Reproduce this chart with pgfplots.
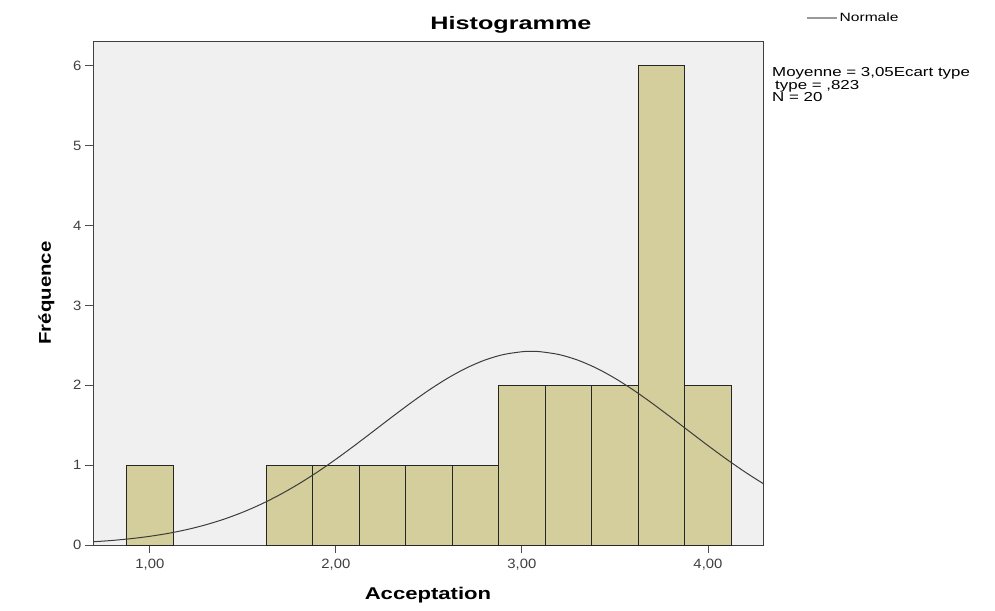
\documentclass[border=0pt]{standalone}
\usepackage{fontspec}
\setmainfont{Liberation Sans}
\newfontfamily\titlefont[FakeStretch=1.4]{Liberation Sans}
\newfontfamily\labfont[FakeStretch=1.3]{Liberation Sans}
\newfontfamily\ylabfont[FakeStretch=1.2]{Liberation Sans}
\newfontfamily\tickfont[FakeStretch=1.1]{Liberation Sans}
\newfontfamily\notefont[FakeStretch=1.3]{Liberation Sans}
\usepackage{pgfplots}
\pgfplotsset{compat=1.18}
\definecolor{barfill}{RGB}{211,206,155}
\definecolor{plotbg}{RGB}{240,240,240}
\definecolor{curve}{RGB}{60,60,60}
\begin{document}
\begin{tikzpicture}[x=1pt,y=1pt]
\path (0,0) rectangle (995,610);
\begin{axis}[
  at={(93pt,65pt)}, anchor=south west,
  scale only axis, width=670pt, height=504pt,
  xmin=0.694, xmax=4.296, ymin=0, ymax=6.31,
  axis background/.style={fill=plotbg},
  axis line style={draw=black!75, line width=0.9pt},
  xtick={1,2,3,4}, xticklabels={{1,00},{2,00},{3,00},{4,00}},
  ytick={0,1,2,3,4,5,6},
  tick align=outside, tick pos=left,
  major tick length=8pt,
  tick style={black!70, line width=0.9pt},
  /pgf/number format/assume math mode=true,
  ticklabel style={font=\tickfont\fontsize{13.5}{15}\selectfont, text=black!75},
  xticklabel style={yshift=-3pt},
  xlabel={\textbf{Acceptation}}, ylabel={\textbf{Fréquence}},
  xlabel style={font=\labfont\fontsize{17}{19}\selectfont, yshift=-10pt},
  ylabel style={font=\ylabfont\fontsize{17}{19}\selectfont, yshift=12pt},
  title={\textbf{Histogramme}},
  title style={font=\titlefont\fontsize{18}{20}\selectfont, yshift=-1.5pt, xshift=83pt},
  legend style={at={(1.063,1.046)}, anchor=west, draw=none, fill=none,
    font=\notefont\fontsize{12}{13}\selectfont, inner sep=0pt},
  legend image code/.code={\draw[black!40, line width=2.2pt] (0pt,0pt) -- (30pt,0pt);},
  clip=true,
]
\addplot[ybar interval, fill=barfill, draw=black!85, line width=0.9pt, forget plot] coordinates {
 (0.875,1) (1.125,0)
};
\addplot[ybar interval, fill=barfill, draw=black!85, line width=0.9pt, forget plot] coordinates {
 (1.625,1) (1.875,1) (2.125,1) (2.375,1) (2.625,1) (2.875,2) (3.125,2) (3.375,2) (3.625,6) (3.875,2) (4.125,2)
};
\addplot[curve, line width=1pt, smooth] coordinates {
 (0.6,0.0288) (0.7,0.0411) (0.8,0.0577) (0.9,0.0799) (1.0,0.1089) (1.1,0.1464) (1.2,0.1938) (1.3,0.2528)
 (1.4,0.3249) (1.5,0.4114) (1.6,0.5134) (1.7,0.6314) (1.8,0.7649) (1.9,0.9132) (2.0,1.0741)
 (2.1,1.2451) (2.2,1.4220) (2.3,1.6003) (2.4,1.7745) (2.5,1.9389) (2.6,2.0874) (2.7,2.2144)
 (2.8,2.3147) (2.9,2.3841) (3.0,2.4195) (3.05,2.424) (3.1,2.4195) (3.2,2.3841) (3.3,2.3147)
 (3.4,2.2144) (3.5,2.0874) (3.6,1.9389) (3.7,1.7745) (3.8,1.6003) (3.9,1.4220) (4.0,1.2451)
 (4.1,1.0741) (4.2,0.9132) (4.3,0.7649) (4.4,0.6314)
};
\addlegendentry{Normale}
\end{axis}
\node[anchor=north west, align=left, font=\notefont\fontsize{13}{11.5}\selectfont, inner sep=0pt] at (772pt,543pt)
  {Moyenne = 3,05Ecart type\\\hspace*{3pt}type = ,823\\N = 20};
\end{tikzpicture}
\end{document}
